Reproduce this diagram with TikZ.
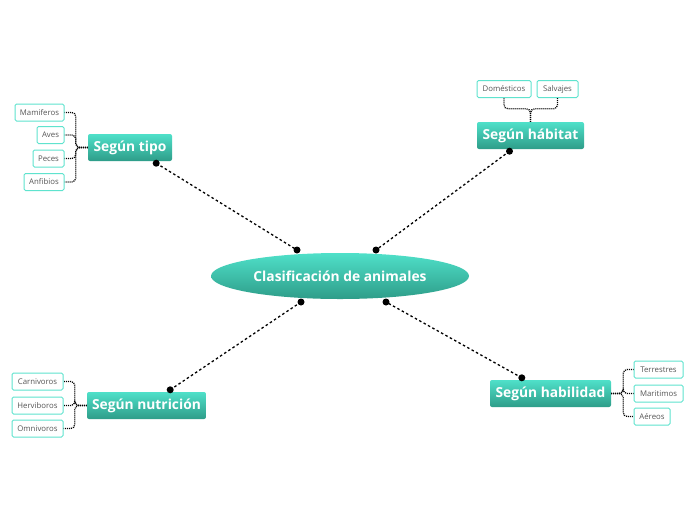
\documentclass[tikz,border=0pt]{standalone}
\usepackage{fontspec}
\setmainfont{Open Sans}
\usepackage{xcolor}
\usetikzlibrary{shapes.geometric}
\definecolor{tealtop}{HTML}{4FE0C9}
\definecolor{tealbot}{HTML}{2E9D89}
\definecolor{leafline}{HTML}{5FE3CE}
\definecolor{leaftext}{HTML}{555555}

\begin{document}
\begin{tikzpicture}[
  x=1pt,y=-1pt,
  topic/.style={ellipse,top color=tealtop,bottom color=tealbot,minimum width=258pt,minimum height=46pt,text=white,font=\bfseries\fontsize{13.8}{16}\selectfont},
  branch/.style={rounded corners=2pt,top color=tealtop,bottom color=tealbot,minimum height=27pt,inner sep=2pt,text=white,font=\bfseries\fontsize{13.8}{16}\selectfont},
  leaf/.style={draw=leafline,line width=1pt,fill=white,rounded corners=1.5pt,minimum height=17pt,inner sep=2pt,text=leaftext,font=\fontsize{7.8}{9}\selectfont},
  link/.style={line width=1.3pt,dash pattern=on 2.5pt off 2.5pt},
  bracket/.style={line width=1.3pt,dash pattern=on 1pt off 1pt,rounded corners=4pt},
  dot/.style={circle,fill=black,inner sep=0pt,minimum size=7pt}
]
\useasboundingbox[fill=white] (0,0) rectangle (696,520);

% centre
\node[topic] (center) at (340,276) {Clasificación de animales};

% branches
\node[branch,minimum width=84pt] (tipo) at (130,147.5) {Según tipo};
\node[branch,minimum width=107pt] (habitat) at (530.5,135.5) {Según hábitat};
\node[branch,minimum width=119pt] (nutricion) at (146.5,405.5) {Según nutrición};
\node[branch,minimum width=121pt] (habilidad) at (550.5,393.5) {Según habilidad};

% leaves
\node[leaf,minimum width=49pt] (mamiferos) at (39.5,112.5) {Mamiferos};
\node[leaf,minimum width=27pt] (aves) at (50.5,135) {Aves};
\node[leaf,minimum width=31pt] (peces) at (48.5,158.5) {Peces};
\node[leaf,minimum width=40pt] (anfibios) at (44,182) {Anfibios};

\node[leaf,minimum width=54pt] (domesticos) at (504,89) {Domésticos};
\node[leaf,minimum width=41pt] (salvajes) at (557.5,89) {Salvajes};

\node[leaf,minimum width=51pt] (carnivoros) at (37.5,381.5) {Carnivoros};
\node[leaf,minimum width=51pt] (herviboros) at (37.5,405.5) {Herviboros};
\node[leaf,minimum width=51pt] (omnivoros) at (37.5,428.5) {Omnivoros};

\node[leaf,minimum width=49pt] (terrestres) at (658.5,369.5) {Terrestres};
\node[leaf,minimum width=49pt] (maritimos) at (658.5,393.5) {Maritimos};
\node[leaf,minimum width=36pt] (aereos) at (652,416.5) {Aéreos};

% brackets
\foreach \l in {mamiferos,aves,peces,anfibios}
  \draw[bracket] (tipo.west) -- ++(-12,0) |- (\l.east);
\foreach \l in {domesticos,salvajes}
  \draw[bracket] (habitat.north) -- ++(0,-13) -| (\l.south);
\foreach \l in {carnivoros,herviboros,omnivoros}
  \draw[bracket] (nutricion.west) -- ++(-12,0) |- (\l.east);
\foreach \l in {terrestres,maritimos,aereos}
  \draw[bracket] (habilidad.east) -- ++(12,0) |- (\l.west);

% links to the centre
\coordinate (tipo-end) at ([xshift=-16pt,yshift=-2pt]tipo.south east);
\coordinate (habitat-end) at ([xshift=-21pt,yshift=-2pt]habitat.south);
\coordinate (nutricion-end) at ([xshift=-36pt,yshift=2pt]nutricion.north east);
\coordinate (habilidad-end) at ([xshift=32pt,yshift=2pt]habilidad.north west);
\coordinate (center-nw) at ([shift={(-43,-26)}]center.center);
\coordinate (center-ne) at ([shift={(36,-26)}]center.center);
\coordinate (center-sw) at ([shift={(-39,26)}]center.center);
\coordinate (center-se) at ([shift={(46,26)}]center.center);

\draw[link] (tipo-end) -- (center-nw);
\draw[link] (habitat-end) -- (center-ne);
\draw[link] (nutricion-end) -- (center-sw);
\draw[link] (habilidad-end) -- (center-se);

\foreach \p in {tipo-end,habitat-end,nutricion-end,habilidad-end,center-nw,center-ne,center-sw,center-se}
  \node[dot] at (\p) {};
\end{tikzpicture}
\end{document}
